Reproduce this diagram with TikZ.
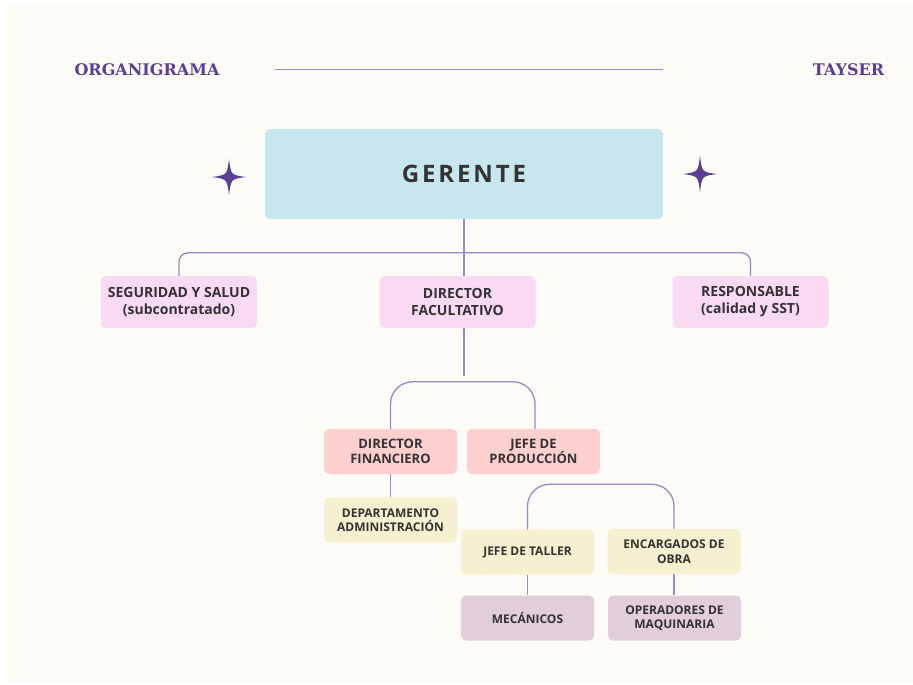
\documentclass[tikz,border=0pt]{standalone}
\usepackage{fontspec}
\setmainfont{Open Sans}
\newfontfamily\titlefont{DejaVu Serif}
\usetikzlibrary{positioning}
\definecolor{orgFondo}{HTML}{FDFBF5}
\definecolor{orgMorado}{HTML}{5B3E96}
\definecolor{orgLinea}{HTML}{9C88C4}
\definecolor{orgCeleste}{HTML}{C8E6EE}
\definecolor{orgRosa}{HTML}{FAD9F3}
\definecolor{orgSalmon}{HTML}{FDCFCF}
\definecolor{orgCrema}{HTML}{F5F0D0}
\definecolor{orgMalva}{HTML}{E2CEDB}
\definecolor{orgTexto}{HTML}{333333}

\begin{document}
\begin{tikzpicture}[x=1pt, y=-1pt,
      box/.style={rounded corners=5pt, fill=#1, inner sep=0pt, align=center,
                  text=orgTexto, font=\fontsize{12}{14.5}\selectfont\bfseries,
                  minimum width=133pt, minimum height=45pt},
      mid/.style={box=orgSalmon, font=\fontsize{13}{15.5}\selectfont\bfseries},
      top/.style={box=orgRosa, minimum width=156pt, minimum height=52pt,
                  font=\fontsize{14}{17}\selectfont\bfseries},
      head/.style={font=\titlefont\fontsize{16}{18}\selectfont\bfseries, text=orgMorado,
                   inner sep=0pt},
      conn/.style={draw=orgLinea, line width=1.3pt}]
    % fondo
    \useasboundingbox (0,0) rectangle (913,685);
    \fill[orgFondo] (8,5) rectangle (913,683);
    % cabecera
    \node[head] (tit) at (147,70) {ORGANIGRAMA};
    \node[head] (emp) at (848.5,70) {TAYSER};
    \coordinate (la) at (275,70);
    \coordinate (lb) at (663,70);
    \draw[orgLinea, line width=1pt] (la) -- (lb);
    % estrellas
    \foreach \cx/\cy in {229/177, 700/174} {
      \fill[orgMorado] (\cx,\cy-18) .. controls (\cx+2,\cy-2) .. (\cx+17,\cy)
        .. controls (\cx+2,\cy+2) .. (\cx,\cy+18)
        .. controls (\cx-2,\cy+2) .. (\cx-17,\cy)
        .. controls (\cx-2,\cy-2) .. cycle;
    }
    % nodos
    \node[box=orgCeleste, minimum width=398pt, minimum height=90pt,
          font=\fontsize{24}{26}\selectfont\bfseries\addfontfeature{LetterSpace=12}]
          (ger) at (464,174) {GERENTE};
    \node[top] (seg)  at (179,302) {SEGURIDAD Y SALUD\\(subcontratado)};
    \node[top] (dfac) at (457.5,302) {DIRECTOR\\FACULTATIVO};
    \node[top] (resp) at (750.5,302) {RESPONSABLE\\(calidad y SST)};
    \node[mid] (dfin)  at (390.5,451.5) {DIRECTOR\\FINANCIERO};
    \node[mid] (jprod) at (533.5,451.5) {JEFE DE\\PRODUCCIÓN};
    \node[box=orgCrema]  (dep)   at (390.5,520) {DEPARTAMENTO\\ADMINISTRACIÓN};
    \node[box=orgCrema]  (jtal)  at (527.5,552) {JEFE DE TALLER};
    \node[box=orgCrema]  (enc)   at (674,551.5) {ENCARGADOS DE\\OBRA};
    \node[box=orgMalva]  (mec)   at (527.5,618) {MECÁNICOS};
    \node[box=orgMalva]  (ope)   at (674.5,618) {OPERADORES DE\\MAQUINARIA};
    % conectores
    \coordinate (hub) at (464,376);
    \draw[conn] (ger.south) -- (ger.south |- dfac.north);
    \draw[conn, rounded corners=9pt] (seg.north) -- ++(0,-23) -| (resp.north);
    \draw[conn] (dfac.south -| hub) -- (hub);
    \draw[conn, rounded corners=22pt] (dfin.north) -- ++(0,-47) -| ([xshift=1.5pt]jprod.north);
    \draw[conn] (dfin.south) -- (dep.north);
    \draw[conn, rounded corners=22pt] (jtal.north) -- ++(0,-45) -| (enc.north);
    \draw[conn] (jtal.south) -- (mec.north);
    \draw[conn] (enc.south) -- (enc.south |- ope.north);
  \end{tikzpicture}
\end{document}
